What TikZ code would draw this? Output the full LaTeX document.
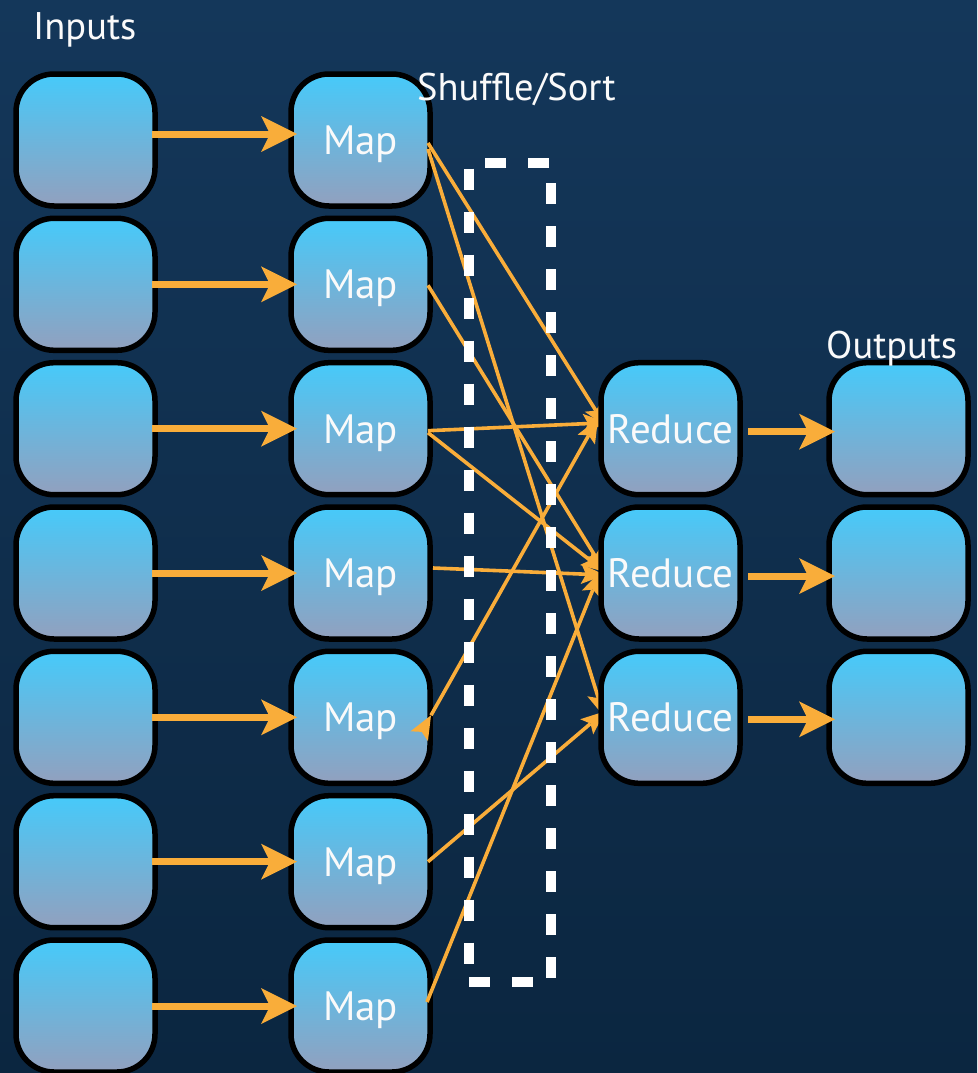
\documentclass[tikz,border=0pt]{standalone}
\usepackage{fontspec}
\setmainfont{PT Sans}
\usetikzlibrary{arrows.meta,calc,decorations.markings}
\definecolor{bgtop}{RGB}{20,55,90}
\definecolor{bgbot}{RGB}{11,38,64}
\definecolor{boxtop}{RGB}{70,202,250}
\definecolor{boxbot}{RGB}{146,160,190}
\definecolor{flow}{RGB}{249,173,58}
\definecolor{txt}{RGB}{250,250,250}
\begin{document}
\begin{tikzpicture}[x=1pt,y=-1pt,
  box/.style={rectangle, rounded corners=38pt, draw=black, line width=5.5pt,
    top color=boxtop, bottom color=boxbot, minimum width=139pt, minimum height=132pt,
    inner sep=0pt, outer sep=0pt, text=txt, font=\fontsize{41}{41}\selectfont,
    text height=29pt, text depth=0pt},
  bigarrow/.style={color=flow, line width=7pt,
    -{Stealth[length=36pt,width=36pt,inset=9pt,line width=0pt]},
    shorten <=-3pt, shorten >=-6pt},
  flowline/.style={color=flow, line width=3.6pt,
    -{Stealth[length=24pt,width=20pt,inset=5pt,line width=0pt]}},
  shufbox/.style={draw=white, line width=10pt, dash pattern=on 21pt off 22pt,
    minimum width=82pt, minimum height=819pt, inner sep=0pt, outer sep=0pt},
  lbl/.style={text=txt, font=\fontsize{38.5}{38.5}\selectfont, anchor=base west, inner sep=0pt}
]
\useasboundingbox (0,0) rectangle (977,1073);
\clip (0,0) rectangle (977,1073);
\fill[top color=bgtop, bottom color=bgbot] (0,0) rectangle (977,1073);

% inputs
\node[box] (i1) at (85.5,140) {};
\node[box] (i2) at (85.5,284.3) {};
\node[box] (i3) at (85.5,428.7) {};
\node[box] (i4) at (85.5,573) {};
\node[box] (i5) at (85.5,717.3) {};
\node[box] (i6) at (85.5,861.7) {};
\node[box] (i7) at (85.5,1006) {};
% maps
\node[box] (m1) at (360.5,140) {Map};
\node[box] (m2) at (360.5,284.3) {Map};
\node[box] (m3) at (360.5,428.7) {Map};
\node[box] (m4) at (360.5,573) {Map};
\node[box] (m5) at (360.5,717.3) {Map};
\node[box] (m6) at (360.5,861.7) {Map};
\node[box] (m7) at (360.5,1006) {Map};
% outputs
\node[box] (o1) at (898.5,428.7) {};
\node[box] (o2) at (898.5,573) {};
\node[box] (o3) at (898.5,717.3) {};

% input -> map
\draw[bigarrow] ([yshift=6pt]i1.east) -- ([yshift=6pt]m1.west);
\draw[bigarrow] (i2.east) -- (m2.west);
\draw[bigarrow] (i3.east) -- (m3.west);
\draw[bigarrow] (i4.east) -- (m4.west);
\draw[bigarrow] (i5.east) -- (m5.west);
\draw[bigarrow] (i6.east) -- (m6.west);
\draw[bigarrow] (i7.east) -- (m7.west);

% reduce west points (boxes drawn after the lines)
\coordinate (r1w) at (601,428.7);
\coordinate (r2w) at (601,573);
\coordinate (r3w) at (601,717.3);

% shuffle lines
\draw[flowline] ($(m1.east)+(-2,3)$) -- ($(r1w)+(5,-2)$);
\draw[flowline] ($(m1.east)+(-2,9)$) -- ($(r3w)+(3,-1)$);
\draw[flowline] ($(m2.east)+(-2,1)$) -- ($(r2w)+(4,-1)$);
\draw[flowline] ($(m3.east)+(-2,2)$) -- ($(r1w)+(6,-6)$);
\draw[flowline] ($(m3.east)+(-2,4)$) -- ($(r2w)+(4,-1)$);
\draw[flowline] ($(m4.east)+(3,-5)$) -- ($(r2w)+(4,2)$);
\draw[flowline, postaction={decorate}, decoration={markings,
  mark=at position 0 with {\arrow{Stealth[length=24pt,width=20pt,inset=5pt,line width=0pt]}}}]
  ($(m5.east)+(1,-2)$) -- ($(r1w)+(-3,-10)$);
\draw[flowline] ($(m6.east)+(-2,0)$) -- ($(r3w)+(4,-6)$);
\draw[flowline] ($(m7.east)+(-3,-4)$) -- ($(r2w)+(-1,-1)$);

% shuffle box
\node[shufbox] (sb) at (510,572) {};

% reduces
\node[box] (r1) at (670.5,428.7) {Reduce};
\node[box] (r2) at (670.5,573) {Reduce};
\node[box] (r3) at (670.5,717.3) {Reduce};

% reduce -> output
\draw[bigarrow, shorten <=8pt] ([yshift=-3pt]r1.east) -- ([yshift=-3pt]o1.west);
\draw[bigarrow, shorten <=8pt] ([yshift=-3pt]r2.east) -- ([yshift=-3pt]o2.west);
\draw[bigarrow, shorten <=8pt] ([yshift=-2pt]r3.east) -- ([yshift=-2pt]o3.west);

% labels
\node[lbl] (inputs) at (33,40) {Inputs};
\node[lbl] (shuffle) at (417,100) {Shuffle/Sort};
\node[lbl] (outputs) at (826,358) {Outputs};
\end{tikzpicture}
\end{document}
